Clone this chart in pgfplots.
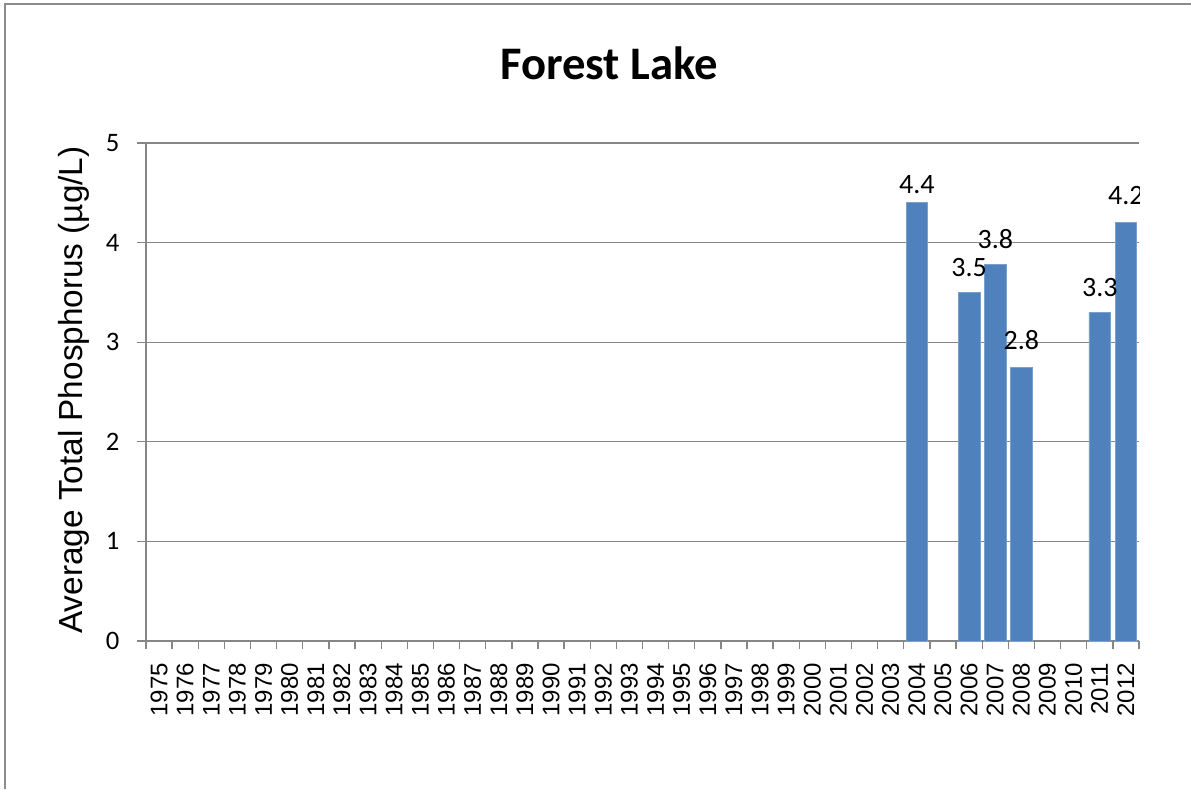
\documentclass[border=0pt]{standalone}
\usepackage{pgfplots}
\pgfplotsset{compat=1.18}
\usepackage{fontspec}
\setmainfont{Liberation Sans}
\newfontfamily\calibri{Carlito}
\definecolor{barblue}{HTML}{4F81BD}
\definecolor{gridgray}{HTML}{868686}
\definecolor{framegray}{HTML}{8C8C8C}

\begin{document}
\begin{tikzpicture}
\useasboundingbox (0,0) rectangle (893.25pt,591.75pt);
% chart frame (only top and left edges are visible)
\draw[framegray, line width=0.9pt] (3.75pt,0) -- (3.75pt,588.75pt) -- (893.25pt,588.75pt);
\node[font=\calibri\fontsize{35}{42}\selectfont\bfseries] at (456.75pt,544.5pt) {Forest Lake};
\node[rotate=90, font=\fontsize{25}{30}\selectfont] at (55.5pt,299.25pt) {Average Total Phosphorus (µg/L)};
\begin{axis}[
  at={(109.5pt,111pt)}, anchor=south west,
  scale only axis, width=744.75pt, height=373.5pt,
  xmin=1974.5, xmax=2012.5, ymin=0, ymax=5,
  axis lines*=left,
  axis line style={gridgray, line width=1pt},
  ymajorgrids, grid style={gridgray, line width=1pt},
  tick align=outside,
  ytick={0,1,2,3,4,5},
  xtick={1975,...,2012},
  minor xtick={1974.5,1975.5,...,2012.5},
  major x tick style={draw=none},
  minor x tick style={draw=gridgray, line width=1pt},
  major y tick style={draw=gridgray, line width=1pt},
  major tick length=6.5pt, minor tick length=6pt,
  /pgf/number format/assume math mode=true,
  xticklabel style={rotate=90, anchor=east, font=\fontsize{18}{21}\selectfont,
    /pgf/number format/1000 sep={}},
  xticklabel shift=6.5pt,
  yticklabel style={font=\calibri\fontsize{20}{24}\selectfont},
  yticklabel shift=10pt,
]
\addplot[ybar, bar width=0.83, fill=barblue, draw=barblue!75!white, line width=0.6pt]
  coordinates {(2004,4.4) (2006,3.5) (2007,3.78) (2008,2.75) (2011,3.3) (2012,4.2)};
\begin{scope}[every node/.style={font=\calibri\fontsize{21}{25}\selectfont}]
\node at (axis cs:2004,4.58) {4.4};
\node at (axis cs:2006,3.75) {3.5};
\node at (axis cs:2007,4.04) {3.8};
\node at (axis cs:2008,3.02) {2.8};
\node at (axis cs:2011,3.55) {3.3};
\node at (axis cs:2012,4.47) {4.2};
\end{scope}
\end{axis}
\end{tikzpicture}
\end{document}
